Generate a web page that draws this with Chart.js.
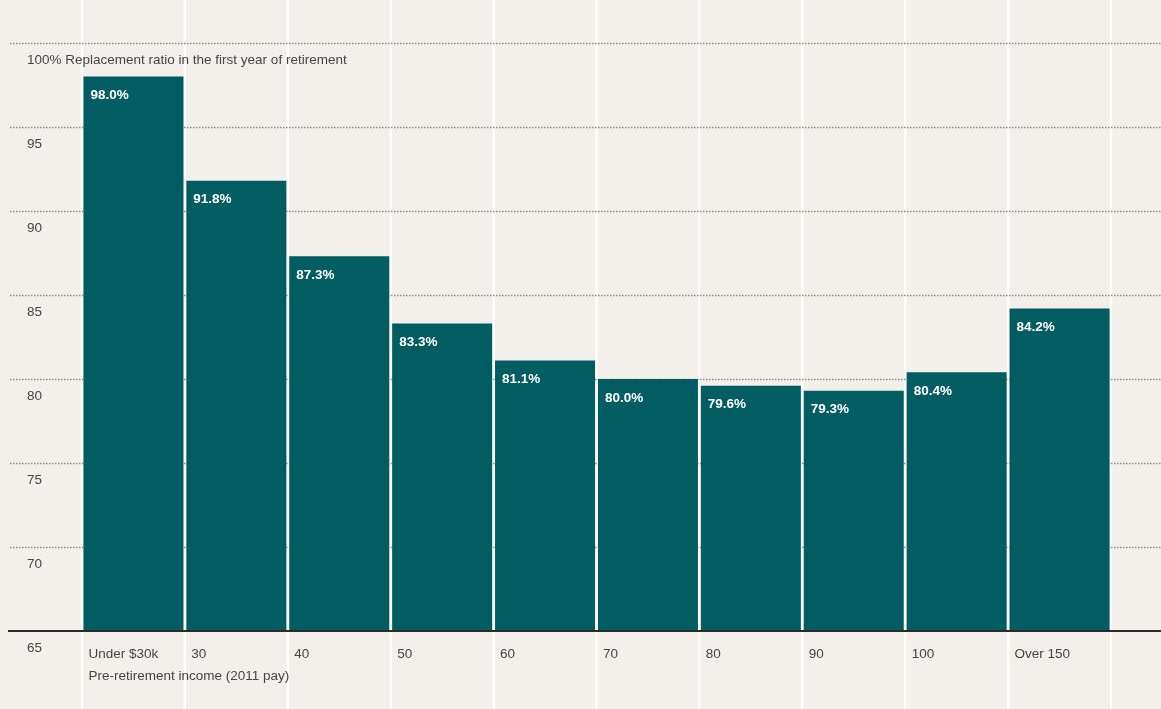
<!DOCTYPE html>
<html>
<head>
<meta charset="utf-8">
<script src="https://cdn.jsdelivr.net/npm/chart.js@4/dist/chart.umd.min.js"></script>
<style>
  html, body { margin: 0; padding: 0; background: #f3f0ec; }
  #wrap { width: 1161px; height: 709px; position: relative; }
</style>
</head>
<body>
<div id="wrap"><canvas id="c"></canvas></div>
<script>
const categories = ['Under $30k', '30', '40', '50', '60', '70', '80', '90', '100', 'Over 150'];
const replacementRatio = [98.0, 91.8, 87.3, 83.3, 81.1, 80.0, 79.6, 79.3, 80.4, 84.2];
const yTickValues = [65, 70, 75, 80, 85, 90, 95, 100];
const yTopLabel = '100% Replacement ratio in the first year of retirement';
const xAxisTitle = 'Pre-retirement income (2011 pay)';

const FONT = "'Liberation Sans Narrow', 'Liberation Sans', Arial, sans-serif";
const BAR = '#025d62';
const BG = '#f3f0ec';

const decorPlugin = {
  id: 'decor',
  beforeDraw(chart) {
    const ctx = chart.ctx;
    const xs = chart.scales.x, ys = chart.scales.y;
    const n = categories.length;
    ctx.save();
    ctx.fillStyle = BG;
    ctx.fillRect(0, 0, chart.width, chart.height);
    // vertical white separators at category boundaries
    ctx.strokeStyle = 'rgba(255,255,255,0.85)';
    ctx.lineWidth = 2.5;
    for (let i = 0; i <= n; i++) {
      let x;
      if (i === 0) x = xs.left;
      else if (i === n) x = xs.right;
      else x = (xs.getPixelForValue(i - 1) + xs.getPixelForValue(i)) / 2;
      ctx.beginPath();
      ctx.moveTo(x, 0);
      ctx.lineTo(x, chart.height);
      ctx.stroke();
    }
    // dotted horizontal gridlines across the full width
    ctx.strokeStyle = '#8f8c88';
    ctx.lineWidth = 1.5;
    ctx.setLineDash([1.5, 1.5]);
    ys.ticks.forEach(t => {
      if (t.value === ys.min) return;
      const y = Math.round(ys.getPixelForValue(t.value)) + 0.5;
      ctx.beginPath();
      ctx.moveTo(10, y);
      ctx.lineTo(chart.width, y);
      ctx.stroke();
    });
    ctx.restore();
  },
  afterDatasetsDraw(chart) {
    const ctx = chart.ctx;
    const ys = chart.scales.y;
    ctx.save();
    // baseline
    const yb = ys.getPixelForValue(ys.min);
    ctx.strokeStyle = '#2b2b2b';
    ctx.lineWidth = 2;
    ctx.beginPath();
    ctx.moveTo(8, yb);
    ctx.lineTo(chart.width, yb);
    ctx.stroke();
    // value labels inside bars
    const meta = chart.getDatasetMeta(0);
    ctx.fillStyle = '#ffffff';
    ctx.font = "bold 13.5px " + FONT;
    ctx.textAlign = 'left';
    ctx.textBaseline = 'middle';
    meta.data.forEach((bar, i) => {
      const left = bar.x - bar.width / 2;
      ctx.fillText(replacementRatio[i].toFixed(1) + '%', left + 7, bar.y + 19);
    });
    ctx.restore();
  }
};

const labels = categories.map((c, i) => i === 0 ? [c, xAxisTitle] : c);

new Chart(document.getElementById('c'), {
  type: 'bar',
  data: {
    labels: labels,
    datasets: [{
      data: replacementRatio,
      backgroundColor: BAR,
      borderWidth: 0,
      barPercentage: 1.0,
      categoryPercentage: 0.972
    }]
  },
  options: {
    responsive: true,
    maintainAspectRatio: false,
    animation: false,
    events: [],
    layout: { padding: { top: 43, left: 10, right: 50, bottom: 0 } },
    plugins: {
      legend: { display: false },
      tooltip: { enabled: false },
      title: { display: false }
    },
    scales: {
      x: {
        type: 'category',
        grid: { display: false, drawTicks: false },
        border: { display: false },
        ticks: {
          align: 'start',
          labelOffset: -45,
          padding: 12,
          maxRotation: 0,
          autoSkip: false,
          color: '#454545',
          font: { family: FONT, size: 13.5, lineHeight: 1.63 }
        },
        afterFit(scale) { scale.height = 78; }
      },
      y: {
        type: 'linear',
        min: 65,
        max: 100,
        afterBuildTicks(scale) { scale.ticks = yTickValues.map(v => ({ value: v })); },
        grid: { display: false, drawTicks: false },
        border: { display: false },
        ticks: {
          mirror: true,
          padding: -55,
          labelOffset: 17,
          color: '#454545',
          font: { family: FONT, size: 13.5 },
          callback: (v) => v === 100 ? yTopLabel : String(v)
        },
        afterFit(scale) { scale.width = 72; }
      }
    }
  },
  plugins: [decorPlugin]
});
</script>
</body>
</html>
